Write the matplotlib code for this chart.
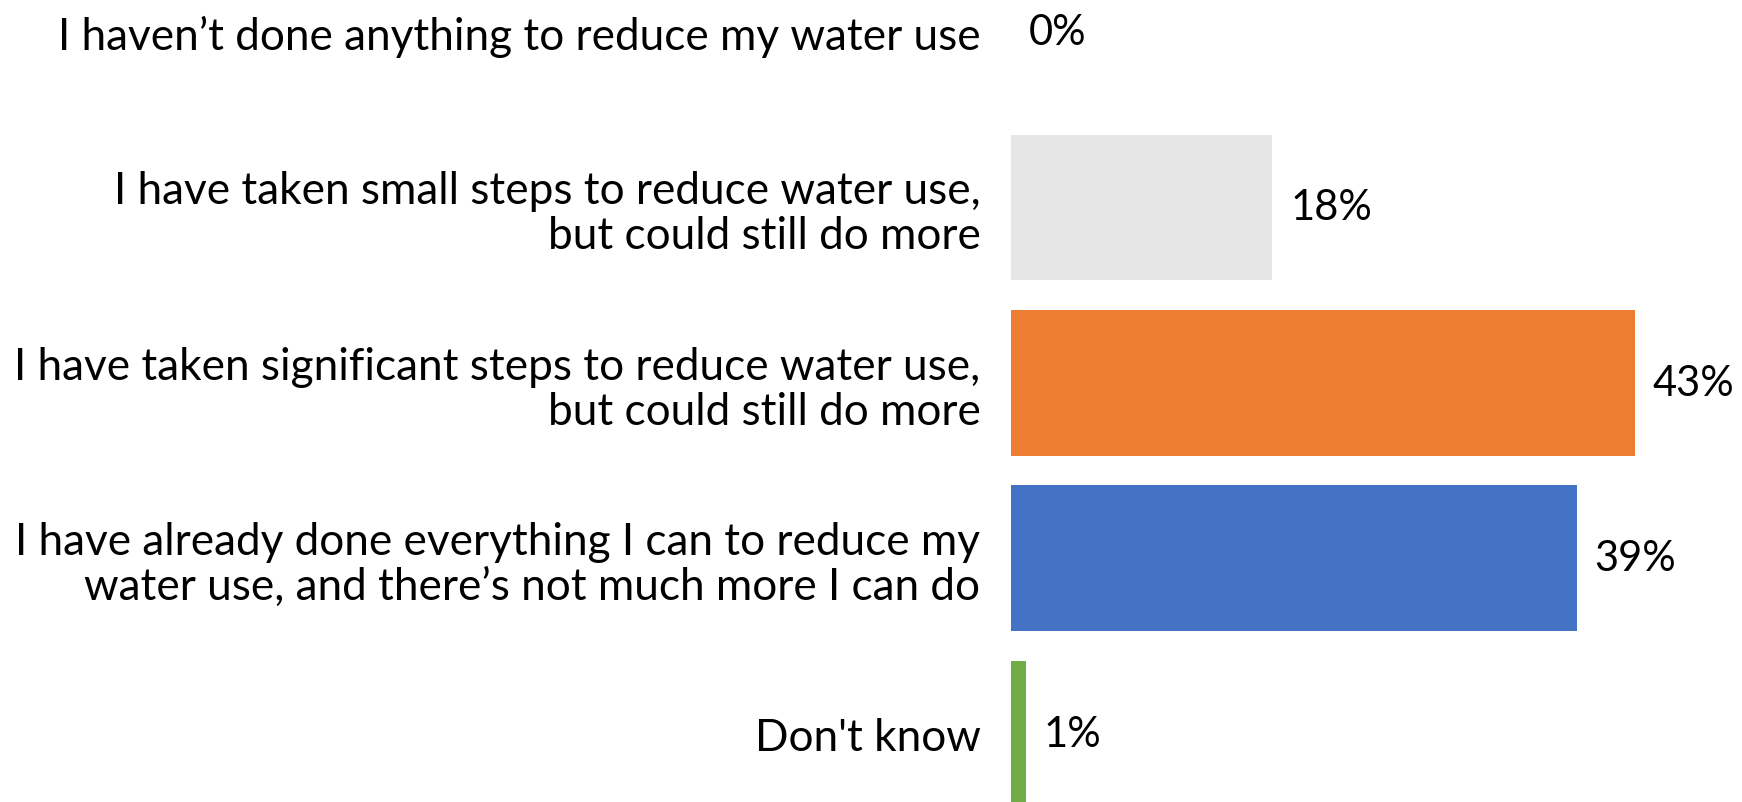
import matplotlib
matplotlib.use("Agg")
from matplotlib import pyplot as plt

plt.rcParams["font.family"] = ["Lato", "DejaVu Sans"]

categories = [
    "I haven\u2019t done anything to reduce my water use",
    "I have taken small steps to reduce water use,\nbut could still do more",
    "I have taken significant steps to reduce water use,\nbut could still do more",
    "I have already done everything I can to reduce my\nwater use, and there\u2019s not much more I can do",
    "Don't know",
]
values = [0, 18, 43, 39, 1]
bar_colors = ["#E7E6E6", "#E7E6E6", "#ED7D31", "#4472C4", "#70AD47"]

fig = plt.figure(figsize=(17.42, 8.03), dpi=100)
ax = fig.add_axes([1011 / 1742, 0, 731 / 1742, 1])

positions = list(range(len(values)))
bars = ax.barh(positions, values, height=0.83, color=bar_colors)
ax.bar_label(bars, labels=[f"{v}%" for v in values], padding=13, fontsize=30)

ax.set_xlim(0, 50.4)
ax.set_ylim(4.39, -0.188)
ax.set_yticks(positions)
ax.set_yticklabels(categories, fontsize=31.8)
for lbl in ax.get_yticklabels():
    lbl.set_linespacing(1.12)
ax.tick_params(axis="y", length=0, pad=22)
ax.set_xticks([])
for s in ax.spines.values():
    s.set_visible(False)

fig.savefig("out.png", dpi=100)
